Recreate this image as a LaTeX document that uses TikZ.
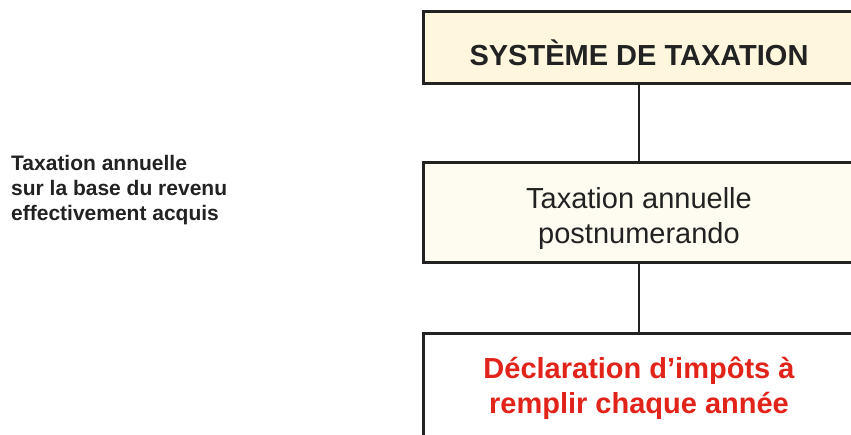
\documentclass[tikz,border=0pt]{standalone}
\usepackage{fontspec}
\setmainfont{Liberation Sans}
\usepackage{xcolor}
\definecolor{boxcream}{HTML}{FEF7DD}
\definecolor{boxlight}{HTML}{FEFCF1}
\definecolor{declred}{HTML}{E2231A}
\definecolor{inkgrey}{HTML}{222222}
\tikzset{
  taxbox/.style={draw=inkgrey, minimum width=432pt, inner sep=0pt},
  bigtext/.style={font=\fontsize{29}{35}\selectfont, text=inkgrey, align=center, inner sep=0pt},
}

\begin{document}
\begin{tikzpicture}[x=1pt,y=-1pt]
  \def\xc{639}
  \clip (0,0) rectangle (851,434);
  % boxes
  \node[taxbox, fill=boxcream, line width=3pt, minimum height=72pt] (systeme) at (\xc,47) {};
  \node[taxbox, fill=boxlight, line width=3pt, minimum height=100pt] (annuelle) at (\xc,212) {};
  \node[taxbox, fill=white, line width=3pt, minimum height=106pt] (declaration) at (\xc,386) {};
  \draw[inkgrey, line width=1.5pt] (systeme.south) -- (annuelle.north);
  \draw[inkgrey, line width=1.5pt] (annuelle.south) -- (declaration.north);
  % texts
  \node[bigtext, font=\fontsize{29}{35}\selectfont\bfseries, anchor=base] (titre) at (\xc,65) {SYSTÈME DE TAXATION};
  \node[bigtext, anchor=base] (postnum) at (\xc,243) {Taxation annuelle\\postnumerando};
  \node[bigtext, font=\fontsize{29}{35}\selectfont\bfseries, text=declred, anchor=base] (remplir) at (\xc,413) {Déclaration d’impôts à\\remplir chaque année};
  \node[anchor=base west, align=left, inner sep=0pt, text=inkgrey, font=\fontsize{21}{25}\selectfont\bfseries] (revenu) at (11,220) {Taxation annuelle\\sur la base du revenu\\effectivement acquis};
\end{tikzpicture}
\end{document}
